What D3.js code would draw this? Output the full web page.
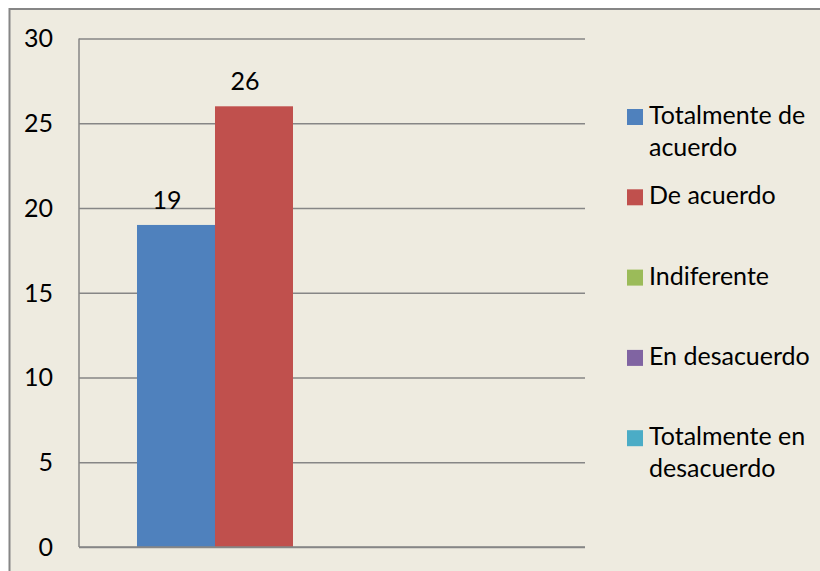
<!DOCTYPE html>
<html>
<head>
<meta charset="utf-8">
<script src="https://cdn.jsdelivr.net/npm/d3@7"></script>
<style>
  body { margin: 0; background: #fff; }
  text { font-family: Lato, "Open Sans", sans-serif; fill: #000; }
</style>
</head>
<body>
<div class="container"></div>
<script>
// data
let series = ['Totalmente de acuerdo', 'De acuerdo', 'Indiferente', 'En desacuerdo', 'Totalmente en desacuerdo'];
let values = [19, 26, 0, 0, 0];
let colors = ['#4F81BD', '#C0504D', '#9BBB59', '#8064A2', '#4BACC6'];
let legendLines = [['Totalmente de', 'acuerdo'], ['De acuerdo'], ['Indiferente'], ['En desacuerdo'], ['Totalmente en', 'desacuerdo']];
let yTicks = [0, 5, 10, 15, 20, 25, 30];

let W = 820, H = 571,
    margin = { top: 38.5, left: 79, right: 235, bottom: 24 },
    width = W - margin.left - margin.right,
    height = H - margin.top - margin.bottom,
    fontSize = '25px';

let svg = d3.select('.container')
  .append('svg')
  .attr('width', W)
  .attr('height', H);

// chart area background + frame
svg.append('rect')
  .attr('x', 9.5).attr('y', 9)
  .attr('width', W).attr('height', H)
  .attr('fill', '#EEEBE0')
  .attr('stroke', '#868686')
  .attr('stroke-width', 2);

let g = svg.append('g')
  .attr('transform', `translate(${margin.left}, ${margin.top})`);

let yScale = d3.scaleLinear().domain([0, 30]).range([height, 0]);

// group scale over the single category, then series within it
let groupScale = d3.scaleBand().domain(['c']).range([0, width]).paddingInner(0).paddingOuter(0.1487);
let xScale = d3.scaleBand().domain(series).range([0, groupScale.bandwidth()]).padding(0);

let gridAxis = d3.axisLeft(yScale)
  .tickValues(yTicks)
  .tickSize(-width)
  .tickFormat('');

g.append('g')
  .attr('class', 'grid')
  .call(gridAxis)
  .call(s => s.select('.domain').remove())
  .call(s => s.selectAll('line').attr('stroke', '#868686').attr('stroke-width', 1.5));

// y-axis line and labels
g.append('line')
  .attr('x1', 0).attr('x2', 0)
  .attr('y1', 0).attr('y2', height)
  .attr('stroke', '#868686').attr('stroke-width', 1.5);

g.selectAll('.ylab')
  .data(yTicks)
  .enter()
  .append('text')
  .attr('class', 'ylab')
  .attr('x', -26)
  .attr('y', d => yScale(d))
  .attr('dy', '0.35em')
  .style('text-anchor', 'end')
  .style('font-size', fontSize)
  .text(d => d);

let bars = g.append('g')
  .attr('transform', `translate(${groupScale('c')}, 0)`);

bars.selectAll('rect')
  .data(values)
  .enter()
  .append('rect')
  .attr('x', (d, i) => xScale(series[i]))
  .attr('y', d => yScale(d))
  .attr('width', xScale.bandwidth())
  .attr('height', d => height - yScale(d))
  .attr('fill', (d, i) => colors[i]);

// value labels sit a little left of the bar centre, like the original
bars.selectAll('.vlab')
  .data(values.filter(v => v > 0))
  .enter()
  .append('text')
  .attr('class', 'vlab')
  .attr('x', (d, i) => xScale(series[i]) + xScale.bandwidth() / 2 - 9)
  .attr('y', d => yScale(d) - 16)
  .style('text-anchor', 'middle')
  .style('font-size', fontSize)
  .text(d => d);

// x-axis line on top of bars
g.append('line')
  .attr('x1', 0).attr('x2', width)
  .attr('y1', height).attr('y2', height)
  .attr('stroke', '#868686').attr('stroke-width', 1.5);

// legend
let legend = svg.append('g')
  .attr('transform', 'translate(627, 109)');

let item = legend.selectAll('.item')
  .data(series)
  .enter()
  .append('g')
  .attr('class', 'item')
  .attr('transform', (d, i) => `translate(0, ${i * 80.3})`);

item.append('rect')
  .attr('width', 16).attr('height', 16)
  .attr('fill', (d, i) => colors[i]);

item.append('text')
  .attr('x', 22)
  .attr('y', 15)
  .style('font-size', fontSize)
  .selectAll('tspan')
  .data((d, i) => legendLines[i])
  .enter()
  .append('tspan')
  .attr('x', 22)
  .attr('dy', (d, j) => j === 0 ? 0 : 31.5)
  .text(d => d);
</script>
</body>
</html>
